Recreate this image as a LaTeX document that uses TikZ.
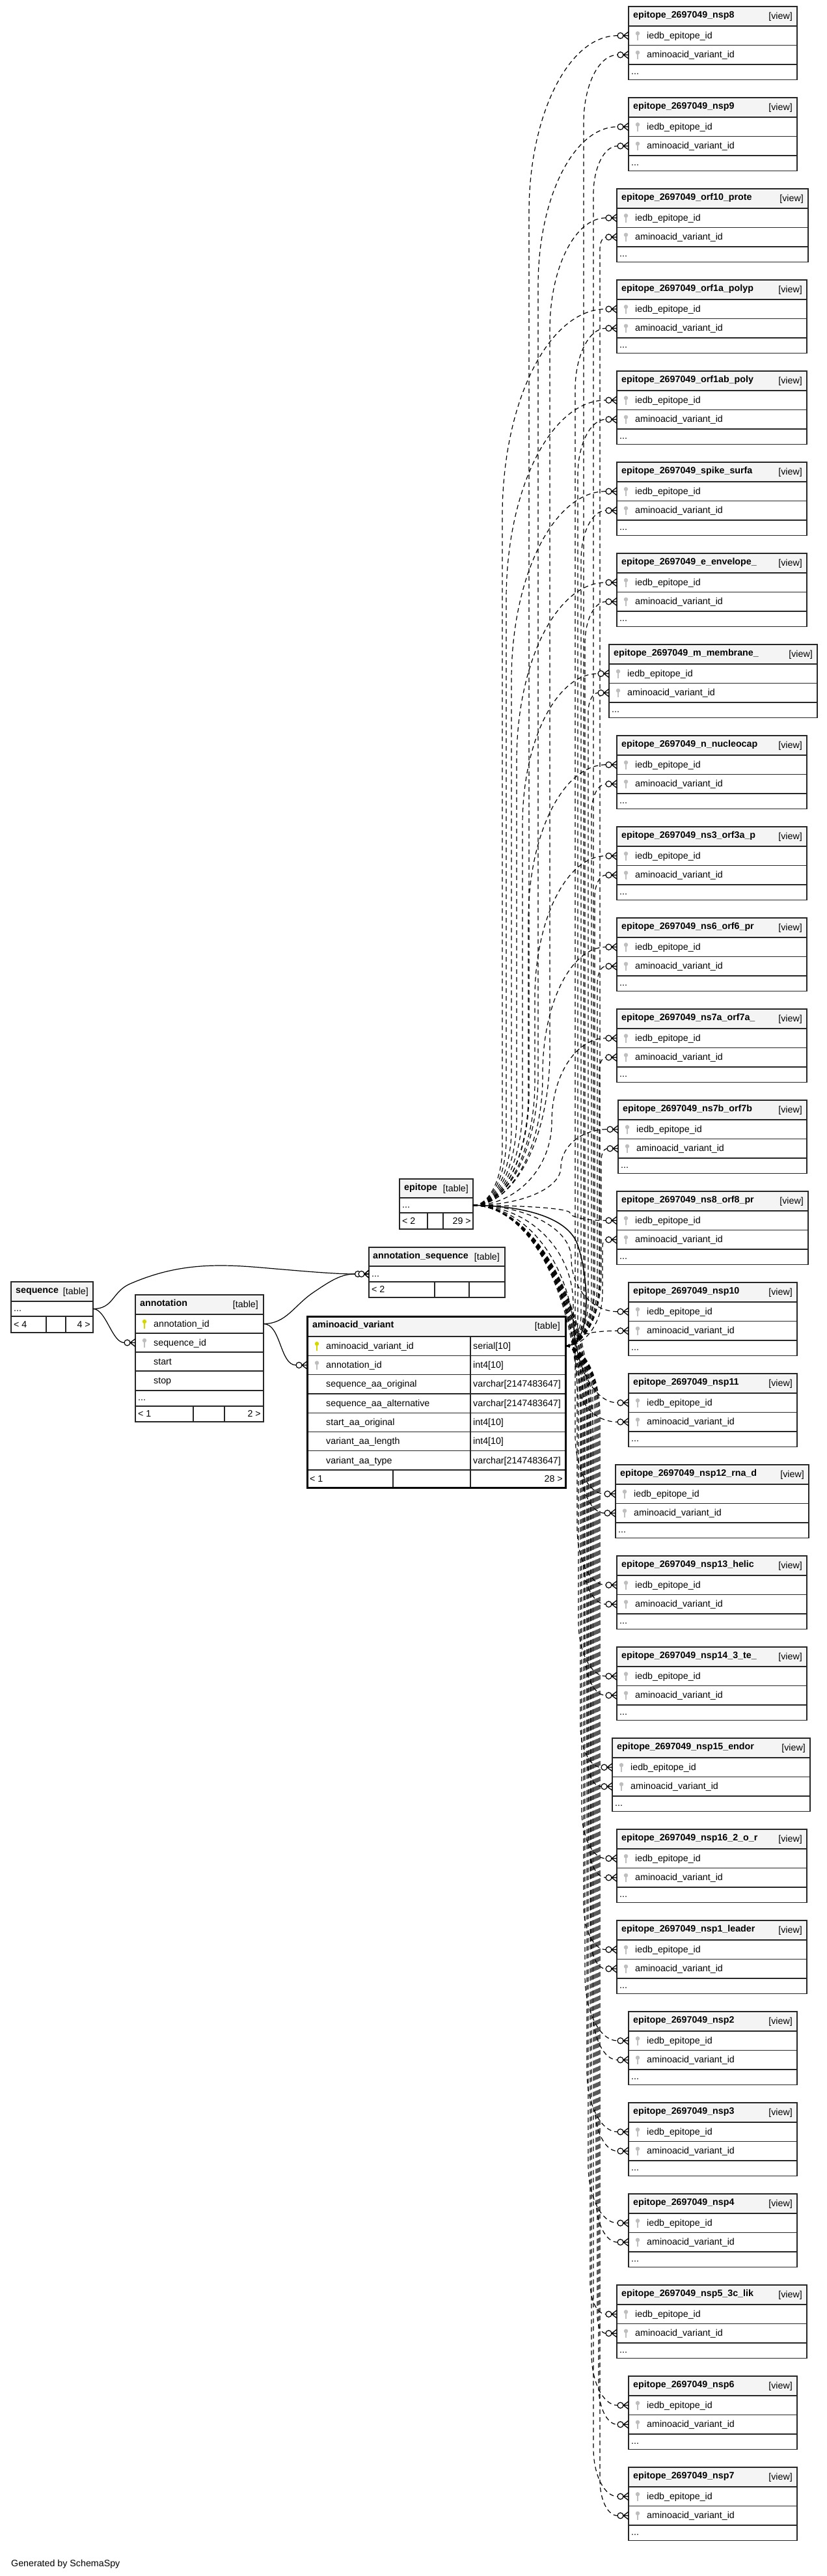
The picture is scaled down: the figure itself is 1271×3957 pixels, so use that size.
\documentclass[tikz,border=0pt]{standalone}
\usepackage{fontspec}
\setmainfont{Liberation Sans}
\newcommand\fs{\fontsize{14.25}{16}\selectfont}
\definecolor{pkcol}{RGB}{215,215,0}
\definecolor{fkcol}{RGB}{190,190,190}
\definecolor{hdrcol}{RGB}{244,244,244}
\tikzset{
  tbl/.style={draw=black!85, line width=1.3pt},
  tblthick/.style={draw=black, line width=3pt},
  hdr/.style={fill=hdrcol},
  txt/.style={inner sep=0pt, font=\fs},
  ttl/.style={inner sep=0pt, font=\fs\bfseries},
  dep/.style={line width=1.2pt, dash pattern=on 7pt off 5pt},
  rel/.style={line width=1.2pt},
}
\newcommand\epn[1]{epitope\_2697049\_#1}
\newcommand\keyicon[3]{%
  \fill[#1] ({#2},{#3-3.5}) circle[radius=3.2];
  \fill[#1] ({#2-1.1},{#3-3.5}) rectangle ({#2+1.1},{#3+7});
}
\newcommand\crowodot[1]{%
  \draw[line width=1.2pt, fill=white] ([xshift=-12.5pt]#1) circle[radius=4.5];
  \draw[line width=1.3pt] ([xshift=-8pt]#1) -- ([yshift=6pt]#1)
    ([xshift=-8pt]#1) -- (#1) ([xshift=-8pt]#1) -- ([yshift=-6pt]#1);
}
\newcommand\crowodotb[1]{%
  \draw[line width=1.2pt, fill=white] ([xshift=-17pt]#1) circle[radius=4.5];
  \draw[line width=1.2pt, fill=white] ([xshift=-11.5pt]#1) circle[radius=4.5];
  \draw[line width=1.6pt] ([xshift=-7pt]#1) -- ([yshift=6pt]#1)
    ([xshift=-7pt]#1) -- (#1) ([xshift=-7pt]#1) -- ([yshift=-6pt]#1);
}
% #1 style, #2 src name, #3 sx, #4 sy, #5 tgt name, #6 tx, #7 ty, #8 lane x
\newcommand\depline[8]{%
  \pgfmathsetmacro\dPx{#6-17}%
  \pgfmathsetmacro\dDy{#7-#4}%
  \pgfmathsetmacro\dSg{(\dDy<0)?-1:1}%
  \pgfmathsetmacro\dHa{abs(\dDy)/2}%
  \pgfmathsetmacro\dRa{min(2*(#8-#3),\dHa)}%
  \pgfmathsetmacro\dRb{min(2*(\dPx-#8),\dHa)}%
  \pgfmathsetmacro\cAx{#3+0.552*(#8-#3)}%
  \pgfmathsetmacro\cAy{#4+(\dSg)*0.448*\dRa}%
  \pgfmathsetmacro\mAy{#4+(\dSg)*\dRa}%
  \pgfmathsetmacro\mBy{#7-(\dSg)*\dRb}%
  \pgfmathsetmacro\cBy{#7-(\dSg)*0.448*\dRb}%
  \pgfmathsetmacro\cBx{\dPx-0.552*(\dPx-#8)}%
  \draw[#1] (#2) .. controls (\cAx,#4) and (#8,\cAy) .. (#8,\mAy) -- (#8,\mBy) .. controls (#8,\cBy) and (\cBx,#7) .. ([xshift=-17pt]#5);%
  \crowodot{#5}%
}
% #1 idx, #2 title, #3 left, #4 width
\newcommand\viewbox[4]{%
  \pgfmathsetmacro\vT{10+140*(#1-1)}%
  \pgfmathsetmacro\vR{#3+#4}%
  \fill[hdr] (#3,\vT) rectangle (\vR,{\vT+30});
  \draw[tbl] (#3,\vT) rectangle (\vR,{\vT+112.5});
  \draw[tbl] (#3,{\vT+30}) -- (\vR,{\vT+30}) (#3,{\vT+59.5}) -- (\vR,{\vT+59.5}) (#3,{\vT+89}) -- (\vR,{\vT+89});
  \node[ttl,anchor=base west] (v#1-t) at ({#3+7},{\vT+17.5}) {#2};
  \node[txt,anchor=base east] (v#1-k) at ({\vR-7},{\vT+19.5}) {[view]};
  \keyicon{fkcol}{#3+14}{\vT+44.75}
  \keyicon{fkcol}{#3+14}{\vT+74.25}
  \node[txt,anchor=base west] (v#1-a) at ({#3+28},{\vT+49}) {iedb\_epitope\_id};
  \node[txt,anchor=base west] (v#1-b) at ({#3+28},{\vT+78.5}) {aminoacid\_variant\_id};
  \node[txt,anchor=base west] (v#1-d) at ({#3+4},{\vT+104}) {...};
  \coordinate (v#1-ie) at (#3,{\vT+44.75});
  \coordinate (v#1-av) at (#3,{\vT+74.25});
}
\begin{document}
\begin{tikzpicture}[x=1pt,y=-1pt]
\useasboundingbox (0,0) rectangle (1271,3957);
\fill[white] (0,0) rectangle (1271,3957);

% ---------- views ----------
\viewbox{1}{\epn{nsp8}}{966}{259}
\viewbox{2}{\epn{nsp9}}{966}{259}
\viewbox{3}{\epn{orf10\_prote}}{948}{294}
\viewbox{4}{\epn{orf1a\_polyp}}{948}{292}
\viewbox{5}{\epn{orf1ab\_poly}}{948}{292}
\viewbox{6}{\epn{spike\_surfa}}{948}{292}
\viewbox{7}{\epn{e\_envelope\_}}{948}{292}
\viewbox{8}{\epn{m\_membrane\_}}{936}{320}
\viewbox{9}{\epn{n\_nucleocap}}{948}{292}
\viewbox{10}{\epn{ns3\_orf3a\_p}}{948}{292}
\viewbox{11}{\epn{ns6\_orf6\_pr}}{948}{292}
\viewbox{12}{\epn{ns7a\_orf7a\_}}{948}{292}
\viewbox{13}{\epn{ns7b\_orf7b}}{950}{290}
\viewbox{14}{\epn{ns8\_orf8\_pr}}{948}{294}
\viewbox{15}{\epn{nsp10}}{966}{259}
\viewbox{16}{\epn{nsp11}}{966}{259}
\viewbox{17}{\epn{nsp12\_rna\_d}}{946}{297}
\viewbox{18}{\epn{nsp13\_helic}}{948}{292}
\viewbox{19}{\epn{nsp14\_3\_te\_}}{948}{292}
\viewbox{20}{\epn{nsp15\_endor}}{941}{304}
\viewbox{21}{\epn{nsp16\_2\_o\_r}}{948}{292}
\viewbox{22}{\epn{nsp1\_leader}}{948}{292}
\viewbox{23}{\epn{nsp2}}{966}{259}
\viewbox{24}{\epn{nsp3}}{966}{259}
\viewbox{25}{\epn{nsp4}}{966}{259}
\viewbox{26}{\epn{nsp5\_3c\_lik}}{948}{292}
\viewbox{27}{\epn{nsp6}}{966}{259}
\viewbox{28}{\epn{nsp7}}{966}{259}

% ---------- sequence ----------
\fill[hdr] (17,1969) rectangle (143,1999);
\draw[tbl] (17,1969) rectangle (143,2047);
\draw[tbl] (17,1999) -- (143,1999) (17,2022) -- (143,2022) (71,2022) -- (71,2047) (101,2022) -- (101,2047);
\node[ttl,anchor=base west] (seq-t) at (24,1986.5) {sequence};
\node[txt,anchor=base east] (seq-k) at (136,1988.5) {[table]};
\node[txt,anchor=base west] (seq-d) at (21,2014) {...};
\node[txt,anchor=base west] (seq-l) at (21,2039) {< 4};
\node[txt,anchor=base east] (seq-r) at (139,2039) {4 >};
\coordinate (seq-p) at (143,2010.5);

% ---------- annotation ----------
\fill[hdr] (208,1989) rectangle (405,2019);
\draw[tbl] (208,1989) rectangle (405,2184);
\draw[tbl] (208,2019) -- (405,2019) (208,2048) -- (405,2048) (208,2077) -- (405,2077)
  (208,2106) -- (405,2106) (208,2136) -- (405,2136) (208,2160) -- (405,2160)
  (297,2160) -- (297,2184) (345,2160) -- (345,2184);
\node[ttl,anchor=base west] (ann-t) at (215,2006.5) {annotation};
\node[txt,anchor=base east] (ann-k) at (397,2008.5) {[table]};
\keyicon{pkcol}{222}{2033.5}
\keyicon{fkcol}{222}{2062.5}
\node[txt,anchor=base west] (ann-c1) at (236,2038) {annotation\_id};
\node[txt,anchor=base west] (ann-c2) at (236,2067) {sequence\_id};
\node[txt,anchor=base west] (ann-c3) at (236,2096) {start};
\node[txt,anchor=base west] (ann-c4) at (236,2125.5) {stop};
\node[txt,anchor=base west] (ann-d) at (212,2151) {...};
\node[txt,anchor=base west] (ann-l) at (212,2176.5) {< 1};
\node[txt,anchor=base east] (ann-r) at (401,2176.5) {2 >};
\coordinate (ann-pk) at (405,2033.5);
\coordinate (ann-sq) at (208,2062.5);

% ---------- epitope ----------
\fill[hdr] (614,1811) rectangle (727,1840);
\draw[tbl] (614,1811) rectangle (727,1888);
\draw[tbl] (614,1840) -- (727,1840) (614,1863) -- (727,1863) (657,1863) -- (657,1888) (681,1863) -- (681,1888);
\node[ttl,anchor=base west] (ep-t) at (621,1828.5) {epitope};
\node[txt,anchor=base east] (ep-k) at (720,1830.5) {[table]};
\node[txt,anchor=base west] (ep-d) at (618,1855) {...};
\node[txt,anchor=base west] (ep-l) at (618,1880) {< 2};
\node[txt,anchor=base east] (ep-r) at (724,1880) {29 >};
\coordinate (ep-p) at (727,1851.5);

% ---------- annotation_sequence ----------
\fill[hdr] (567,1916) rectangle (776,1945);
\draw[tbl] (567,1916) rectangle (776,1993);
\draw[tbl] (567,1945) -- (776,1945) (567,1969) -- (776,1969) (668,1969) -- (668,1993) (721,1969) -- (721,1993);
\node[ttl,anchor=base west] (as-t) at (573,1933.5) {annotation\_sequence};
\node[txt,anchor=base east] (as-k) at (768,1935.5) {[table]};
\node[txt,anchor=base west] (as-d) at (571,1961) {...};
\node[txt,anchor=base west] (as-l) at (571,1985) {< 2};
\coordinate (as-p) at (567,1957);

% ---------- aminoacid_variant ----------
\fill[hdr] (472,2022) rectangle (869,2053);
\draw[tbl] (472,2053) -- (869,2053);
\foreach \yy in {2082.3,2111.6,2140.9,2170.2,2199.5,2228.8,2258.1} {\draw[tbl] (472,\yy) -- (869,\yy);}
\draw[tbl] (723,2053) -- (723,2285) (604,2258.1) -- (604,2285);
\draw[tblthick] (472,2022) rectangle (869,2285);
\node[ttl,anchor=base west] (av-t) at (480,2039.5) {aminoacid\_variant};
\node[txt,anchor=base east] (av-k) at (861,2041.5) {[table]};
\keyicon{pkcol}{487}{2067.6}
\keyicon{fkcol}{487}{2097}
\node[txt,anchor=base west] (av-c1) at (501,2072) {aminoacid\_variant\_id};
\node[txt,anchor=base west] (av-c2) at (501,2101.5) {annotation\_id};
\node[txt,anchor=base west] (av-c3) at (501,2130.8) {sequence\_aa\_original};
\node[txt,anchor=base west] (av-c4) at (501,2160.1) {sequence\_aa\_alternative};
\node[txt,anchor=base west] (av-c5) at (501,2189.4) {start\_aa\_original};
\node[txt,anchor=base west] (av-c6) at (501,2218.7) {variant\_aa\_length};
\node[txt,anchor=base west] (av-c7) at (501,2248) {variant\_aa\_type};
\node[txt,anchor=base west] (av-y1) at (727,2072) {serial[10]};
\node[txt,anchor=base west] (av-y2) at (727,2101.5) {int4[10]};
\node[txt,anchor=base west] (av-y3) at (727,2130.8) {varchar[2147483647]};
\node[txt,anchor=base west] (av-y4) at (727,2160.1) {varchar[2147483647]};
\node[txt,anchor=base west] (av-y5) at (727,2189.4) {int4[10]};
\node[txt,anchor=base west] (av-y6) at (727,2218.7) {int4[10]};
\node[txt,anchor=base west] (av-y7) at (727,2248) {varchar[2147483647]};
\node[txt,anchor=base west] (av-l) at (476,2276) {< 1};
\node[txt,anchor=base east] (av-r) at (865,2276) {28 >};
\coordinate (av-p) at (869,2067.5);
\coordinate (av-ann) at (472,2097);

% ---------- solid relations ----------
\draw[rel] (seq-p) .. controls (163,2010.5) and (172,2062.5) .. ([xshift=-17pt]ann-sq);
\crowodot{ann-sq}
\draw[rel] (seq-p) .. controls (175,2010.5) and (172,1984) .. (200,1972)
  .. controls (265,1944) and (320,1940) .. (400,1947)
  .. controls (470,1953) and (515,1957) .. ([xshift=-21.5pt]as-p);
\draw[rel] (ann-pk) .. controls (440,2033.5) and (452,2005) .. (482,1985)
  .. controls (510,1966) and (525,1957) .. ([xshift=-21.5pt]as-p);
\crowodotb{as-p}
\draw[rel] (ann-pk) .. controls (432,2033.5) and (430,2097) .. ([xshift=-17pt]av-ann);
\crowodot{av-ann}
\draw[rel, line width=1.5pt] (ep-p) .. controls (800,1852) and (870,1868) .. (887,1910)
  .. controls (905,1960) and (912,2067.5) .. (av-p);

% ---------- implied (dashed) relations ----------
\foreach \i/\lx/\le/\la in {1/966/813/897, 2/966/827/912, 3/948/845/922, 4/948/772/884,
  5/948/778/888, 6/948/786/893, 7/948/794/899, 8/936/803/904, 9/948/812/909,
  10/948/822/914, 11/948/834/918, 12/948/848/921, 13/950/862/924, 14/948/876/926,
  15/966/878/888, 16/966/881/890, 17/946/884/893, 18/948/887/896, 19/948/889/899,
  20/941/892/902, 21/948/894/905, 22/948/897/908, 23/966/899/911, 24/966/902/914,
  25/966/904/916, 26/948/907/918, 27/966/909/920, 28/966/912/922} {
  \pgfmathsetmacro\tyE{10+140*(\i-1)+44.75}
  \pgfmathsetmacro\tyA{10+140*(\i-1)+74.25}
  \depline{dep}{ep-p}{727}{1851.5}{v\i-ie}{\lx}{\tyE}{\le}
  \depline{dep}{av-p}{869}{2067.5}{v\i-av}{\lx}{\tyA}{\la}
}

\node[txt,anchor=base west] (gen) at (17,3942) {Generated by SchemaSpy};
\end{tikzpicture}
\end{document}
